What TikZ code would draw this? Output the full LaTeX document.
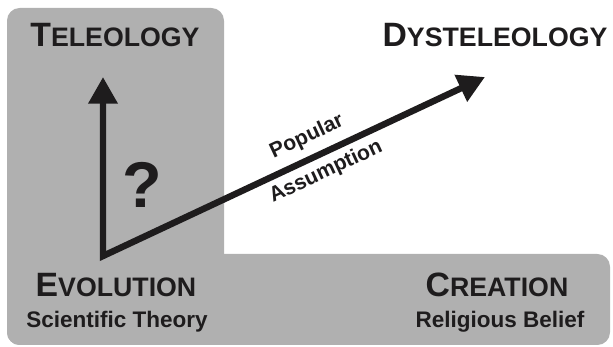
\documentclass[tikz,border=0pt]{standalone}
\usepackage{fontspec}
\setmainfont{Liberation Sans}
\usetikzlibrary{arrows.meta}
\definecolor{panelgray}{RGB}{176,176,176}
\definecolor{inkgray}{RGB}{30,28,29}
\newcommand{\capsc}[2]{{\fontsize{24}{24}\selectfont #1}{\fontsize{19}{19}\selectfont #2}}
\tikzset{
  panel/.style={fill=panelgray, rounded corners=9pt},
  titletext/.style={font=\bfseries, text=inkgray, inner sep=0pt},
  subtext/.style={font=\bfseries\fontsize{16}{16}\selectfont, text=inkgray, inner sep=0pt},
  armlabel/.style={font=\bfseries\fontsize{15}{15}\selectfont, text=inkgray, inner sep=0pt, rotate=25},
  bigarrow/.style={line width=4.6pt, draw=inkgray, line join=miter,
    {Triangle[length=19pt,width=20pt]}-{Triangle[length=19pt,width=20pt]}}
}
\begin{document}
\begin{tikzpicture}[x=0.025cm, y=-0.025cm]
\useasboundingbox (0,0) rectangle (613,347);

\fill[panel] (7,8) rectangle (224,345);
\fill[panel] (7,254) rectangle (610,345);

\node[titletext] (teleology) at (115,35) {\capsc{T}{ELEOLOGY}};
\node[titletext] (dysteleology) at (495,35) {\capsc{D}{YSTELEOLOGY}};
\node[titletext] (evolution) at (116,285) {\capsc{E}{VOLUTION}};
\node[subtext] (science) at (117,322) {Scientific Theory};
\node[titletext] (creation) at (497,285) {\capsc{C}{REATION}};
\node[subtext] (religion) at (500,322) {Religious Belief};

\coordinate (origin) at (103,256);
\coordinate (up) at (103,77);
\coordinate (dys) at (485,77);
\draw[bigarrow] (up) -- (origin) -- (dys);

\node[font=\bfseries\fontsize{46}{46}\selectfont, text=inkgray, inner sep=0pt] (question) at (142,185) {?};
\node[armlabel] (popular) at (307,137) {Popular};
\node[armlabel] (assumption) at (326,172) {Assumption};

\end{tikzpicture}
\end{document}
